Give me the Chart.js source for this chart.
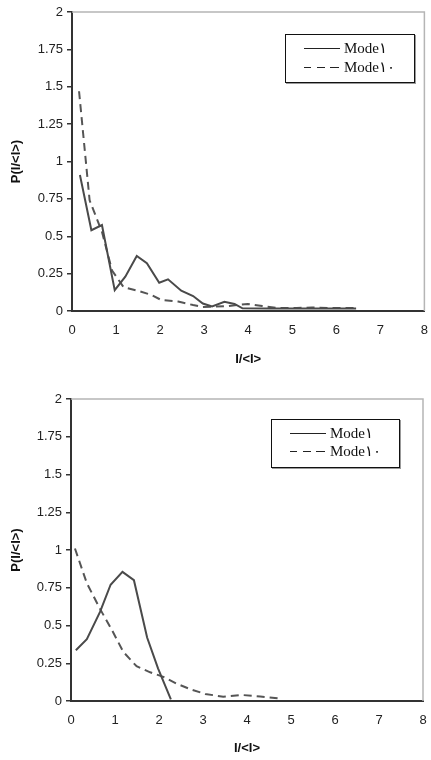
<!DOCTYPE html>
<html>
<head>
<meta charset="utf-8">
<script src="https://cdn.jsdelivr.net/npm/chart.js@4/dist/chart.umd.min.js"></script>
<style>
  html, body { margin:0; padding:0; background:#fff; width:431px; height:760px; overflow:hidden; }
  .wrap { position:absolute; left:0; width:440px; height:380px; }
  .legend { position:absolute; border:1.5px solid #111; box-shadow:1px 1px 0 #999; background:#fff;
            font-family:"Liberation Serif","Times New Roman",serif; font-size:15px; color:#111; }
  .row { position:absolute; left:0; height:18px; display:flex; align-items:center; }
  .sample { width:36px; height:0; border-top:1.6px solid #222; margin-right:4px; }
  .sample.dash { border-top:1.6px dashed #222; border-image: repeating-linear-gradient(90deg,#222 0 8px,transparent 8px 13px) 1; }
</style>
</head>
<body>
<div class="wrap" style="top:0"><canvas id="c1"></canvas></div>
<div class="wrap" style="top:380px"><canvas id="c2"></canvas></div>

<div class="legend" style="left:285px;top:34px;width:128px;height:47px;">
  <div class="row" style="top:4px;left:18px;"><div class="sample"></div><span>Mode۱</span></div>
  <div class="row" style="top:23px;left:18px;"><div class="sample dash"></div><span>Mode۱۰</span></div>
</div>
<div class="legend" style="left:271px;top:419px;width:127px;height:47px;">
  <div class="row" style="top:4px;left:18px;"><div class="sample"></div><span>Mode۱</span></div>
  <div class="row" style="top:22px;left:18px;"><div class="sample dash"></div><span>Mode۱۰</span></div>
</div>

<script>
// ---- Data ----
const seriesNames = ["Mode۱", "Mode۱۰"];
const xTitle = "I/<I>";
const yTitle = "P(I/<I>)";

// Top chart
const top_solid_x = [0.18,0.44,0.68,0.97,1.21,1.47,1.70,1.98,2.18,2.48,2.75,2.97,3.18,3.46,3.69,3.87,4.5,5.5,6.45];
const top_solid_y = [0.91,0.54,0.575,0.14,0.23,0.368,0.319,0.189,0.212,0.136,0.10,0.05,0.03,0.062,0.047,0.018,0.016,0.016,0.016];
const top_dash_x  = [0.16,0.40,0.68,0.91,1.17,1.50,1.81,2.03,2.41,2.75,2.97,3.54,3.99,4.32,4.66,5.10,5.45,5.90,6.46];
const top_dash_y  = [1.47,0.74,0.53,0.27,0.16,0.135,0.107,0.073,0.063,0.04,0.027,0.033,0.047,0.033,0.02,0.02,0.023,0.02,0.02];

// Bottom chart
const bot_solid_x = [0.11,0.36,0.66,0.90,1.17,1.43,1.73,1.98,2.27];
const bot_solid_y = [0.336,0.41,0.59,0.77,0.855,0.80,0.42,0.215,0.01];
const bot_dash_x  = [0.09,0.36,0.66,0.93,1.19,1.49,1.80,2.10,2.40,2.74,3.05,3.46,3.88,4.30,4.80];
const bot_dash_y  = [1.01,0.78,0.61,0.47,0.325,0.23,0.19,0.16,0.115,0.075,0.047,0.028,0.04,0.03,0.015];

const xMin = 0, xMax = 8, xStep = 1;
const yMin = 0, yMax = 2, yStep = 0.25;

function pts(xs, ys) { return xs.map((x, i) => ({x: x, y: ys[i]})); }
function fmt(v) { return String(Number(Number(v).toFixed(2))); }

const framePlugin = {
  id: 'frame',
  beforeDatasetsDraw(chart) {
    const {ctx, chartArea: a} = chart;
    ctx.save();
    ctx.strokeStyle = '#b5b5b5';
    ctx.lineWidth = 1.5;
    ctx.beginPath();
    ctx.moveTo(a.left, a.top);
    ctx.lineTo(a.right, a.top);
    ctx.lineTo(a.right, a.bottom);
    ctx.stroke();
    ctx.restore();
  }
};

function makeChart(id, solid, dash, box) {
  const H = 380, W = 440;
  return new Chart(document.getElementById(id), {
    type: 'line',
    data: {
      datasets: [
        { label: seriesNames[0], data: solid, borderColor: '#4a4a4a', borderWidth: 2,
          pointRadius: 0, tension: 0, fill: false },
        { label: seriesNames[1], data: dash, borderColor: '#555', borderWidth: 2,
          borderDash: [8, 5], pointRadius: 0, tension: 0, fill: false }
      ]
    },
    options: {
      responsive: true,
      maintainAspectRatio: false,
      animation: false,
      events: [],
      layout: { padding: { top: box.top, right: W - box.right, left: 0, bottom: 0 } },
      plugins: { legend: { display: false }, tooltip: { enabled: false } },
      scales: {
        x: {
          type: 'linear', min: xMin, max: xMax,
          ticks: { stepSize: xStep, color: '#222', padding: box.xTickPad, callback: fmt,
                   font: { family: 'Liberation Sans, Arial, sans-serif', size: 13 } },
          grid: { display: false, drawTicks: false },
          border: { display: true, color: '#333', width: 2 },
          title: { display: true, text: xTitle, color: '#111',
                   font: { family: 'Liberation Sans, Arial, sans-serif', size: 13, weight: 'bold' },
                   padding: { top: 0, bottom: box.xTitlePad } },
          afterFit(scale) { scale.height = H - box.bottom; }
        },
        y: {
          min: yMin, max: yMax,
          ticks: { stepSize: yStep, color: '#222', padding: 4, callback: fmt, autoSkip: false,
                   font: { family: 'Liberation Sans, Arial, sans-serif', size: 13 } },
          grid: { display: true, drawOnChartArea: false, drawTicks: true, tickLength: 5, color: '#333', lineWidth: 1.5 },
          border: { display: true, color: '#333', width: 2 },
          title: { display: true, text: yTitle, color: '#111',
                   font: { family: 'Liberation Sans, Arial, sans-serif', size: 13, weight: 'bold' },
                   padding: { top: 9, bottom: 0 } },
          afterFit(scale) { scale.width = box.left; }
        }
      }
    },
    plugins: [framePlugin]
  });
}

makeChart('c1', pts(top_solid_x, top_solid_y), pts(top_dash_x, top_dash_y),
  { top: 12, bottom: 311, left: 72, right: 428, xTickPad: 12, xTitlePad: 13 });
makeChart('c2', pts(bot_solid_x, bot_solid_y), pts(bot_dash_x, bot_dash_y),
  { top: 19, bottom: 321, left: 71, right: 423, xTickPad: 12, xTitlePad: 4 });
</script>
</body>
</html>
